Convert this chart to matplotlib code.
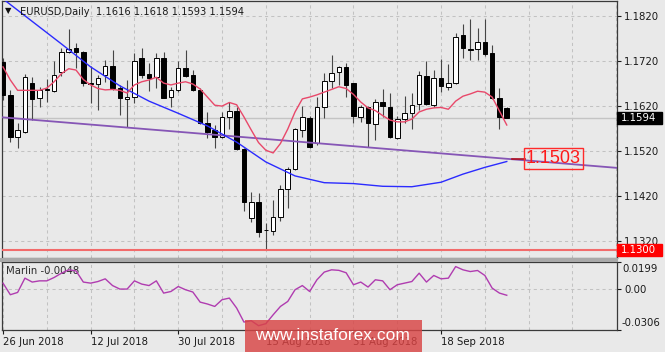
import matplotlib.pyplot as plt
from matplotlib.patches import Rectangle
from matplotlib.transforms import blended_transform_factory

# EURUSD daily bars, 26 Jun 2018 .. 1 Oct 2018 (bar index 0..69)
opens = [1.1718, 1.1645, 1.1551, 1.1563, 1.1672, 1.1637, 1.1657, 1.1654, 1.1695, 1.1739,
         1.1750, 1.1741, 1.1672, 1.1668, 1.1688, 1.1709, 1.1660, 1.1635, 1.1640, 1.1726,
         1.1691, 1.1684, 1.1726, 1.1640, 1.1656, 1.1704, 1.1689, 1.1656, 1.1583, 1.1567,
         1.1551, 1.1596, 1.1610, 1.1524, 1.1371, 1.1408, 1.1346, 1.1343, 1.1374, 1.1437,
         1.1480, 1.1567, 1.1593, 1.1537, 1.1619, 1.1676, 1.1695, 1.1706, 1.1671, 1.1595,
         1.1619, 1.1580, 1.1628, 1.1619, 1.1549, 1.1591, 1.1605, 1.1625, 1.1687, 1.1622,
         1.1682, 1.1662, 1.1671, 1.1778, 1.1746, 1.1746, 1.1763, 1.1737, 1.1637, 1.1616]
highs = [1.1727, 1.1656, 1.1582, 1.1691, 1.1685, 1.1663, 1.1680, 1.1719, 1.1749, 1.1791,
         1.1761, 1.1742, 1.1709, 1.1689, 1.1722, 1.1745, 1.1667, 1.1678, 1.1738, 1.1749,
         1.1716, 1.1738, 1.1741, 1.1663, 1.1719, 1.1745, 1.1700, 1.1660, 1.1608, 1.1578,
         1.1608, 1.1628, 1.1618, 1.1527, 1.1430, 1.1427, 1.1361, 1.1412, 1.1445, 1.1485,
         1.1571, 1.1621, 1.1598, 1.1640, 1.1693, 1.1733, 1.1709, 1.1716, 1.1671, 1.1622,
         1.1620, 1.1635, 1.1657, 1.1648, 1.1598, 1.1642, 1.1648, 1.1699, 1.1721, 1.1700,
         1.1724, 1.1713, 1.1783, 1.1802, 1.1813, 1.1793, 1.1813, 1.1756, 1.1660, 1.1618]
lows = [1.1634, 1.1541, 1.1526, 1.1560, 1.1589, 1.1619, 1.1630, 1.1652, 1.1687, 1.1738,
        1.1705, 1.1665, 1.1627, 1.1611, 1.1674, 1.1656, 1.1600, 1.1573, 1.1627, 1.1682,
        1.1654, 1.1660, 1.1637, 1.1619, 1.1652, 1.1685, 1.1654, 1.1580, 1.1549, 1.1528,
        1.1549, 1.1569, 1.1523, 1.1387, 1.1363, 1.1329, 1.1301, 1.1334, 1.1366, 1.1393,
        1.1478, 1.1552, 1.1528, 1.1534, 1.1593, 1.1660, 1.1667, 1.1641, 1.1583, 1.1585,
        1.1530, 1.1545, 1.1595, 1.1549, 1.1547, 1.1582, 1.1569, 1.1611, 1.1622, 1.1619,
        1.1652, 1.1656, 1.1669, 1.1726, 1.1722, 1.1722, 1.1731, 1.1635, 1.1569, 1.1593]
closes = [1.1645, 1.1552, 1.1567, 1.1685, 1.1635, 1.1656, 1.1655, 1.1689, 1.1741, 1.1747,
          1.1741, 1.1671, 1.1668, 1.1683, 1.1708, 1.1661, 1.1637, 1.1640, 1.1719, 1.1689,
          1.1682, 1.1727, 1.1639, 1.1656, 1.1704, 1.1687, 1.1656, 1.1582, 1.1563, 1.1552,
          1.1595, 1.1610, 1.1524, 1.1408, 1.1408, 1.1341, 1.1344, 1.1374, 1.1437, 1.1480,
          1.1569, 1.1595, 1.1529, 1.1619, 1.1676, 1.1693, 1.1706, 1.1667, 1.1598, 1.1619,
          1.1582, 1.1628, 1.1620, 1.1552, 1.1591, 1.1605, 1.1622, 1.1689, 1.1625, 1.1682,
          1.1665, 1.1671, 1.1774, 1.1748, 1.1744, 1.1763, 1.1736, 1.1637, 1.1595, 1.1594]

# red (fast) moving average, one value per bar
fast_ma = [1.1707, 1.1678, 1.1655, 1.1655, 1.1655, 1.1655, 1.1660, 1.1674, 1.1692, 1.1703,
           1.1700, 1.1679, 1.1667, 1.1659, 1.1656, 1.1657, 1.1655, 1.1649, 1.1667, 1.1674,
           1.1678, 1.1684, 1.1671, 1.1667, 1.1671, 1.1674, 1.1669, 1.1658, 1.1640, 1.1622,
           1.1620, 1.1628, 1.1623, 1.1596, 1.1567, 1.1539, 1.1522, 1.1516, 1.1537, 1.1569,
           1.1607, 1.1636, 1.1640, 1.1645, 1.1651, 1.1657, 1.1663, 1.1659, 1.1646, 1.1629,
           1.1616, 1.1610, 1.1599, 1.1589, 1.1585, 1.1585, 1.1591, 1.1607, 1.1613, 1.1616,
           1.1617, 1.1613, 1.1631, 1.1642, 1.1647, 1.1653, 1.1651, 1.1640, 1.1609, 1.1578]

# blue (slow) moving average, read every few bars
slow_bar = [0, 4, 8, 12, 16, 20, 24, 28, 32, 36, 40, 44, 48, 52, 56, 60, 63, 66, 69]
slow_ma = [1.1858, 1.1808, 1.1758, 1.1707, 1.1665, 1.1631, 1.1604, 1.1576, 1.1540, 1.1496,
           1.1465, 1.1450, 1.1448, 1.1442, 1.1441, 1.1451, 1.1469, 1.1484, 1.1497]

# purple trend line through two bars
trend_bar = [0, 69]
trend_val = [1.1595, 1.1503]

marlin = [0.0042, -0.0044, -0.0027, 0.0079, 0.0050, 0.0059, 0.0059, 0.0084, 0.0116, 0.0141,
          0.0133, 0.0050, 0.0042, 0.0054, 0.0074, 0.0024, -0.0002, -0.0002, 0.0059, 0.0035,
          0.0024, 0.0059, -0.0032, -0.0020, 0.0017, -0.0007, -0.0024, -0.0099, -0.0113, -0.0131,
          -0.0081, -0.0069, -0.0143, -0.0247, -0.0237, -0.0274, -0.0259, -0.0193, -0.0131, -0.0094,
          -0.0007, 0.0024, -0.0020, 0.0067, 0.0124, 0.0141, 0.0137, 0.0119, 0.0030, 0.0050,
          0.0013, 0.0067, 0.0059, -0.0007, 0.0030, 0.0042, 0.0054, 0.0116, 0.0050, 0.0099,
          0.0074, 0.0079, 0.0165, 0.0141, 0.0128, 0.0136, 0.0099, 0.0005, -0.0032, -0.0048]

support = 1.1300
bid = closes[-1]
price_ticks = [1.1320, 1.1420, 1.1520, 1.1620, 1.1720, 1.1820]
marlin_max, marlin_min = 0.0199, -0.0306
date_bars = [0, 12, 24, 36, 48, 60]
date_labels = ['26 Jun 2018', '12 Jul 2018', '30 Jul 2018', '15 Aug 2018', '31 Aug 2018', '18 Sep 2018']

W, H = 665, 352
BG = '#e9e9e9'
GRID = '#c2c2c2'
FS = 7.3


def px_rect(x0, y0, x1, y1):
    return [x0 / W, 1 - y1 / H, (x1 - x0) / W, (y1 - y0) / H]


def right_tag(axis, value, text, fc, half_px):
    # coloured price tag sitting on the right axis
    tr = blended_transform_factory(axis.transAxes, axis.transData)
    y0, y1 = axis.get_ylim()
    h_px = axis.get_position().height * H
    half = half_px * (y1 - y0) / h_px
    axis.add_patch(Rectangle((1.0, value - half), 45 / 615, 2 * half, transform=tr,
                             fc=fc, ec=fc, clip_on=False, zorder=6))
    axis.text(1 + 4 / 615, value, text, transform=tr, color='white', fontsize=FS,
              va='center', ha='left', clip_on=False, zorder=7)


def draw_chart():
    plt.rcParams['font.family'] = 'DejaVu Sans'
    fig = plt.figure(figsize=(W / 100, H / 100), dpi=100, facecolor=BG)
    ax = fig.add_axes(px_rect(2, 1, 617, 258), facecolor=BG)
    ax2 = fig.add_axes(px_rect(2, 262, 617, 330), facecolor=BG)

    xlim = (-0.14, 84.1)
    bars = list(range(len(closes)))

    # --- main price panel ---
    ax.set_xlim(*xlim)
    ax.set_ylim(1.12828, 1.18533)
    ax.axhline(bid, color='#c4c4c4', lw=1.0, zorder=1)

    ax.vlines(bars, lows, highs, color='#454545', lw=0.8, zorder=3)
    body_h = [max(abs(c - o), 0.00004) for o, c in zip(opens, closes)]
    body_b = [min(o, c) for o, c in zip(opens, closes)]
    body_c = ['white' if c >= o else 'black' for o, c in zip(opens, closes)]
    ax.bar(bars, body_h, bottom=body_b, width=0.62, color=body_c,
           edgecolor='black', lw=0.7, zorder=4)

    ax.axline((trend_bar[0], trend_val[0]), (trend_bar[1], trend_val[1]),
              color='#8656b6', lw=1.3, zorder=5)
    ax.plot(slow_bar, slow_ma, color='#2b2bff', lw=1.0, zorder=5)
    ax.plot(bars, fast_ma, color='#e8486a', lw=1.0, zorder=5)
    ax.axhline(support, color='#f26b6b', lw=1.5, zorder=5)

    # trend value label
    ax.plot([bars[-1] + 0.7, 71.5], [trend_val[-1], trend_val[-1]], color='#b01020', lw=1.2, zorder=5)
    ax.text(71.6, trend_val[-1], f'{trend_val[-1]:.4f}', color='#ff1a1a', fontsize=13,
            family='Liberation Sans', va='center', ha='left', zorder=6,
            bbox=dict(boxstyle='square,pad=0.12', fc='none', ec='#ff2a2a', lw=1.0))

    ax.set_xticks(range(6, 85, 6))
    ax.tick_params(axis='x', length=0, labelbottom=False)
    ax.yaxis.tick_right()
    ax.set_yticks(price_ticks, [f'{p:.4f}' for p in price_ticks])
    ax.tick_params(axis='y', direction='out', length=3, width=0.8, pad=2,
                   labelsize=FS, colors='#1a1a1a')
    ax.grid(True, color=GRID, lw=0.75, ls=(0, (3, 3)), zorder=0)
    ax.set_axisbelow(True)
    for s in ax.spines.values():
        s.set_color('#3a3a3a')
        s.set_linewidth(0.9)

    right_tag(ax, bid, f'{bid:.4f}', 'black', 6.0)
    right_tag(ax, support, f'{support:.4f}', '#ff0000', 5.8)

    # --- Marlin sub panel ---
    ax2.set_xlim(*xlim)
    ax2.set_ylim(marlin_min, marlin_max)
    ax2.plot(bars, marlin, color='#b03cb0', lw=1.0, zorder=3)
    ax2.set_xticks(date_bars, date_labels)
    ax2.set_xticks([6, 18, 30, 42, 54, 66, 72, 78], minor=True)
    for lab in ax2.get_xticklabels():
        lab.set_ha('left')
    ax2.tick_params(axis='x', which='major', direction='out', length=3, width=0.8, pad=2,
                    labelsize=FS, colors='#1a1a1a')
    ax2.tick_params(axis='x', which='minor', length=0)
    ax2.yaxis.tick_right()
    ax2.set_yticks([marlin_min, 0, marlin_max], ['', '0.00', ''])
    ax2.tick_params(axis='y', direction='out', length=3, width=0.8, pad=2,
                    labelsize=FS, colors='#1a1a1a')
    ax2.grid(True, which='both', axis='x', color=GRID, lw=0.75, ls=(0, (3, 3)), zorder=0)
    ax2.grid(True, axis='y', color=GRID, lw=0.75, ls=(0, (3, 3)), zorder=0)
    ax2.set_axisbelow(True)
    for s in ax2.spines.values():
        s.set_color('#3a3a3a')
        s.set_linewidth(0.9)
    for val, dy in [(marlin_max, -5.4), (marlin_min, 5.0)]:
        ax2.annotate(f'{val:.4f}', xy=(1, val), xycoords=('axes fraction', 'data'),
                     xytext=(3.6, dy), textcoords='offset points', va='center', ha='left',
                     fontsize=FS, color='#1a1a1a', annotation_clip=False)
    ax2.text(4 / 615, 1 - 9.5 / 68, f'Marlin {marlin[-1]:.4f}', transform=ax2.transAxes,
             fontsize=FS, color='#2a2a2a', va='center', ha='left', zorder=2)

    # window separator
    fig.add_artist(Rectangle((0, 1 - 261.5 / H), 618 / W, 3.5 / H, transform=fig.transFigure,
                             fc='#a9a9a9', ec='none'))

    # header
    fig.text(5 / W, 1 - 11 / H, '\u25bc', fontsize=6, color='#111111', va='center')
    fig.text(20 / W, 1 - 12 / H,
             f'EURUSD,Daily  {opens[-1]:.4f} {highs[-1]:.4f} {lows[-1]:.4f} {closes[-1]:.4f}',
             fontsize=7.1, color='#1a1a1a', va='center')

    # watermark
    fig.add_artist(Rectangle((245 / W, 0), 177 / W, 32 / H, transform=fig.transFigure,
                             fc='#d94444', ec='none', alpha=0.82, zorder=10))
    fig.text(332 / W, 1 - 336 / H, 'www.instaforex.com', color='white', fontsize=12.5,
             family='Liberation Sans', ha='center', va='center', zorder=11)

    fig.savefig('out.png', dpi=100, facecolor=BG)


if __name__ == '__main__':
    draw_chart()
